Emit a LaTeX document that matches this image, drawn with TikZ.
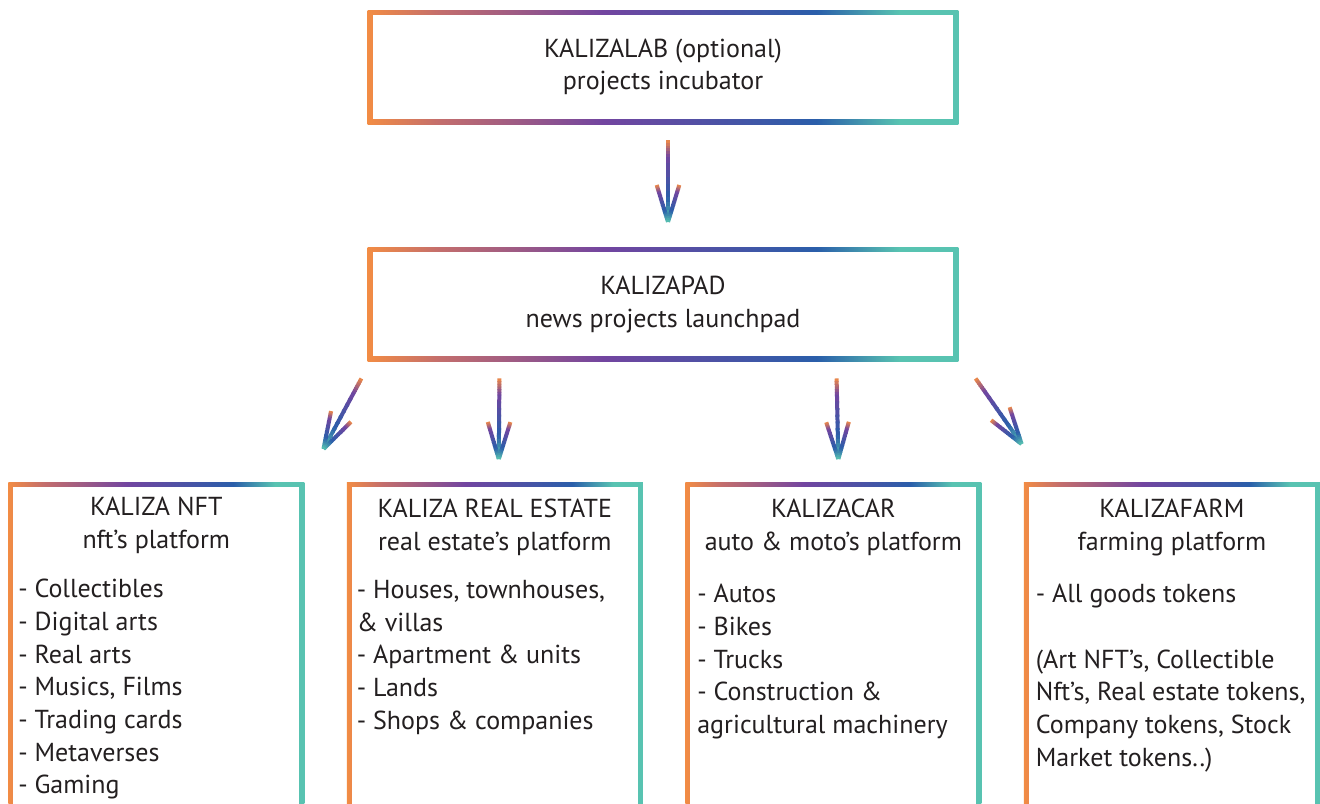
\documentclass[tikz,border=0pt]{standalone}
\usepackage{fontspec}
\setmainfont{PT Sans}
\usepackage{xcolor}
\usepackage{tikz}
\usetikzlibrary{positioning,calc}

\definecolor{korange}{HTML}{F28C44}
\definecolor{kpink}{HTML}{C46E6C}
\definecolor{kpurple}{HTML}{7245A0}
\definecolor{kblue}{HTML}{2A5EAA}
\definecolor{kteal}{HTML}{58C3B1}
\definecolor{ktext}{HTML}{231F20}

\pgfdeclarehorizontalshading{kgrad}{100bp}{color(0bp)=(korange); color(25bp)=(korange); color(31bp)=(kpink); color(45bp)=(kpurple); color(63bp)=(kblue); color(70bp)=(kteal); color(100bp)=(kteal)}

\newcommand\kfont{\fontsize{19.5}{24.5}\selectfont}

% one stroke, orange end first, teal end last
\newcommand\gradseg[2]{%
  \foreach \ca/\cb/\s/\l in {korange/kpurple/0/0.2,kpurple/kblue/0.2/0.5,kblue/kteal/0.7/0.3}{%
    \foreach \j in {0,...,5}{%
      \pgfmathsetmacro\p{100*(\j+0.5)/6}%
      \pgfmathsetmacro\ta{\s+\l*\j/6}%
      \pgfmathsetmacro\tb{min(1,\s+\l*(\j+1.3)/6)}%
      \draw[karrow,color=\cb!\p!\ca] ($(#1)!\ta!(#2)$) -- ($(#1)!\tb!(#2)$);
    }}}
\newcommand\gradarrow[2]{%
  \coordinate (barbA) at ($(#2)!29pt!17:(#1)$);
  \coordinate (barbB) at ($(#2)!29pt!-17:(#1)$);
  \gradseg{#1}{#2}\gradseg{barbA}{#2}\gradseg{barbB}{#2}}

\begin{document}
\begin{tikzpicture}[x=0.75pt,y=-0.75pt,
kbox/.style={rectangle, shading=kgrad, inner sep=0pt, align=center, text=ktext, font=\kfont,
  path picture={\fill[white] ([shift={(3.75pt,-3.75pt)}]path picture bounding box.north west) rectangle ([shift={(-3.75pt,3.75pt)}]path picture bounding box.south east);}},
widebox/.style={kbox, minimum width=443pt, minimum height=85.5pt},
colbox/.style={kbox, minimum width=222pt, minimum height=300pt},
ttl/.style={anchor=north, align=center, inner sep=0pt, text=ktext, font=\kfont},
lst/.style={anchor=north west, align=left, inner sep=0pt, text=ktext, font=\kfont},
karrow/.style={line width=3pt},
]
\useasboundingbox (0,0) rectangle (1320,803);
\clip (0,0) rectangle (1320,803);

%Nodes
\node[widebox](lab) at (663,67) {KALIZALAB (optional)\\projects incubator};
\node[widebox](pad)[below=92pt of lab] {KALIZAPAD\\news projects launchpad};

\node[colbox, anchor=north west](nft) at (8,482) {};
\node[colbox](estate)[right=31.5pt of nft] {};
\node[colbox](car)[right=31.5pt of estate] {};
\node[colbox](farm)[right=31.5pt of car] {};

\node[ttl](nftttl) at ($(nft.north)+(0,15)$) {KALIZA NFT\\nft’s platform};
\node[lst](nftlst) at ($(nft.north west)+(10,97)$) {- Collectibles\\- Digital arts\\- Real arts\\- Musics, Films\\- Trading cards\\- Metaverses\\- Gaming};

\node[ttl](estatettl) at ($(estate.north)+(0,17)$) {KALIZA REAL ESTATE\\real estate’s platform};
\node[lst](estatelst) at ($(estate.north west)+(10,98)$) {- Houses, townhouses,\\\& villas\\- Apartment \& units\\- Lands\\- Shops \& companies};

\node[ttl](carttl) at ($(car.north)+(0,17)$) {KALIZACAR\\auto \& moto’s platform};
\node[lst](carlst) at ($(car.north west)+(12,102)$) {- Autos\\- Bikes\\- Trucks\\- Construction \&\\agricultural machinery};

\node[ttl](farmttl) at ($(farm.north)+(0,17)$) {KALIZAFARM\\farming platform};
\node[lst](farmlst) at ($(farm.north west)+(12,102)$) {- All goods tokens\\[24.5pt](Art NFT’s, Collectible\\Nft’s, Real estate tokens,\\Company tokens, Stock\\Market tokens..)};

%Lines
\coordinate (labtail) at ($(lab.south)+(5,16)$);
\coordinate (padtip) at ($(pad.north)+(5,-25)$);
\coordinate (nfttail) at ($(pad.south west)+(-6,17)$);
\coordinate (nfttip) at ($(nft.north east)+(19,-33)$);
\coordinate (estatetail) at ($(pad.south west)+(132,17)$);
\coordinate (estatetip) at ($(estate.north)+(4,-23)$);
\coordinate (cartail) at ($(pad.south east)+(-122,17)$);
\coordinate (cartip) at ($(car.north)+(5,-23)$);
\coordinate (farmtail) at ($(pad.south east)+(17,17)$);
\coordinate (farmtip) at ($(farm.north west)+(-2,-38)$);

\gradarrow{labtail}{padtip}
\gradarrow{nfttail}{nfttip}
\gradarrow{estatetail}{estatetip}
\gradarrow{cartail}{cartip}
\gradarrow{farmtail}{farmtip}
\end{tikzpicture}
\end{document}
